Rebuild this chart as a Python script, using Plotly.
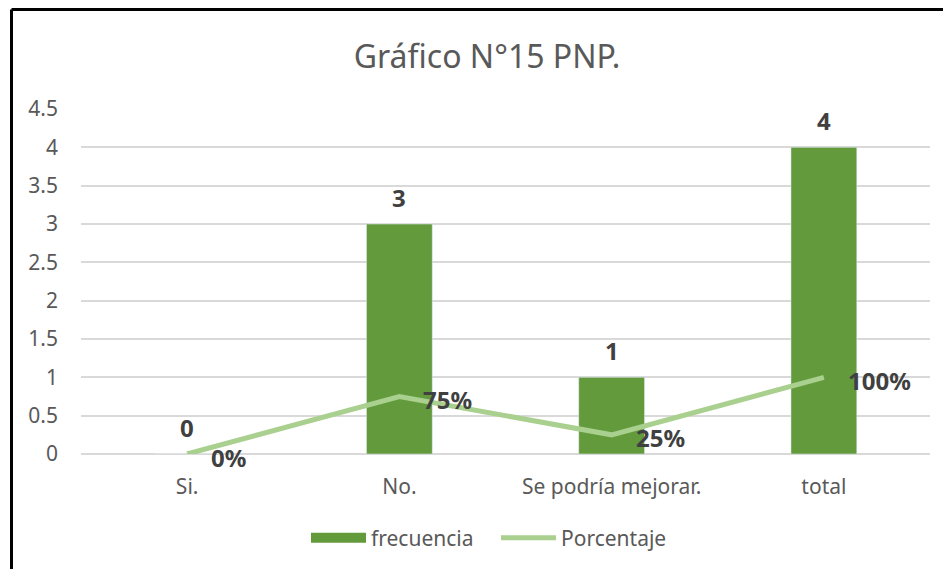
import plotly.graph_objects as go

categorias = ["Si.", "No.", "Se podría mejorar.", "total"]
frecuencia = [0, 3, 1, 4]
porcentaje = [0, 0.75, 0.25, 1]
etiquetas_pct = ["0%", "75%", "25%", "100%"]

BAR_COLOR = "#629A3C"
LINE_COLOR = "#A9D08E"
TEXT_COLOR = "#595959"
LABEL_COLOR = "#404040"
FONT = "Noto Sans"

# page has an 8px body margin, so the figure is 8px smaller than the window
W, H = 943, 561
L, R, T, B = 73, 21, 101, 115
pw, ph = W - L - R, H - T - B

fig = go.Figure()

fig.add_trace(go.Bar(
    x=categorias, y=frecuencia, name="frecuencia",
    marker_color=BAR_COLOR, showlegend=False,
))
# wide legend swatch for the bars
fig.add_trace(go.Scatter(
    x=[None], y=[None], mode="lines", name="frecuencia",
    line=dict(color=BAR_COLOR, width=14),
))
fig.add_trace(go.Scatter(
    x=categorias, y=porcentaje, mode="lines", name="Porcentaje",
    line=dict(color=LINE_COLOR, width=5),
))

annotations = []
for c, v in zip(categorias, frecuencia):
    annotations.append(dict(
        x=c, y=v, text=f"<b>{v}</b>", showarrow=False,
        yshift=27, font=dict(size=24, color=LABEL_COLOR, family=FONT),
    ))
for c, v, t in zip(categorias, porcentaje, etiquetas_pct):
    annotations.append(dict(
        x=c, y=v, text=f"<b>{t}</b>", showarrow=False,
        xanchor="left", xshift=22, yshift=-3,
        font=dict(size=24, color=LABEL_COLOR, family=FONT),
    ))

# outer frame: top and left edges
x_left = (3.5 - L) / pw
y_top = (H - B - 1.5) / ph
shapes = [
    dict(type="line", xref="paper", yref="paper", x0=x_left, x1=(W - L) / pw,
         y0=y_top, y1=y_top, line=dict(color="black", width=3)),
    dict(type="line", xref="paper", yref="paper", x0=x_left, x1=x_left,
         y0=y_top, y1=-B / ph, line=dict(color="black", width=3)),
]

fig.update_layout(
    width=W, height=H,
    margin=dict(l=L, r=R, t=T, b=B, autoexpand=False),
    paper_bgcolor="white", plot_bgcolor="white",
    font=dict(family=FONT, size=21, color=TEXT_COLOR),
    title=dict(text="Gráfico N°15 PNP.", x=479 / W, y=1 - 49 / H,
               xanchor="center", yanchor="middle", xref="container",
               yref="container", font=dict(size=32, color=TEXT_COLOR)),
    bargap=0.69,
    showlegend=True,
    legend=dict(orientation="h", x=488 / W, xanchor="center",
                y=1 - 530 / H, yanchor="middle", yref="container",
                xref="container", itemwidth=55, tracegroupgap=0,
                entrywidth=120,
                font=dict(size=21, color=TEXT_COLOR)),
    annotations=annotations,
    shapes=shapes,
)
fig.update_yaxes(range=[0, 4.5], dtick=0.5, gridcolor="#D9D9D9", gridwidth=1.5,
                 zeroline=True, zerolinecolor="#D9D9D9", zerolinewidth=1.5,
                 showline=False, ticklabelstandoff=22, automargin=False)
fig.update_xaxes(type="category", showgrid=False, showline=False,
                 ticklabelstandoff=18, automargin=False)

fig.write_html("out.html")
